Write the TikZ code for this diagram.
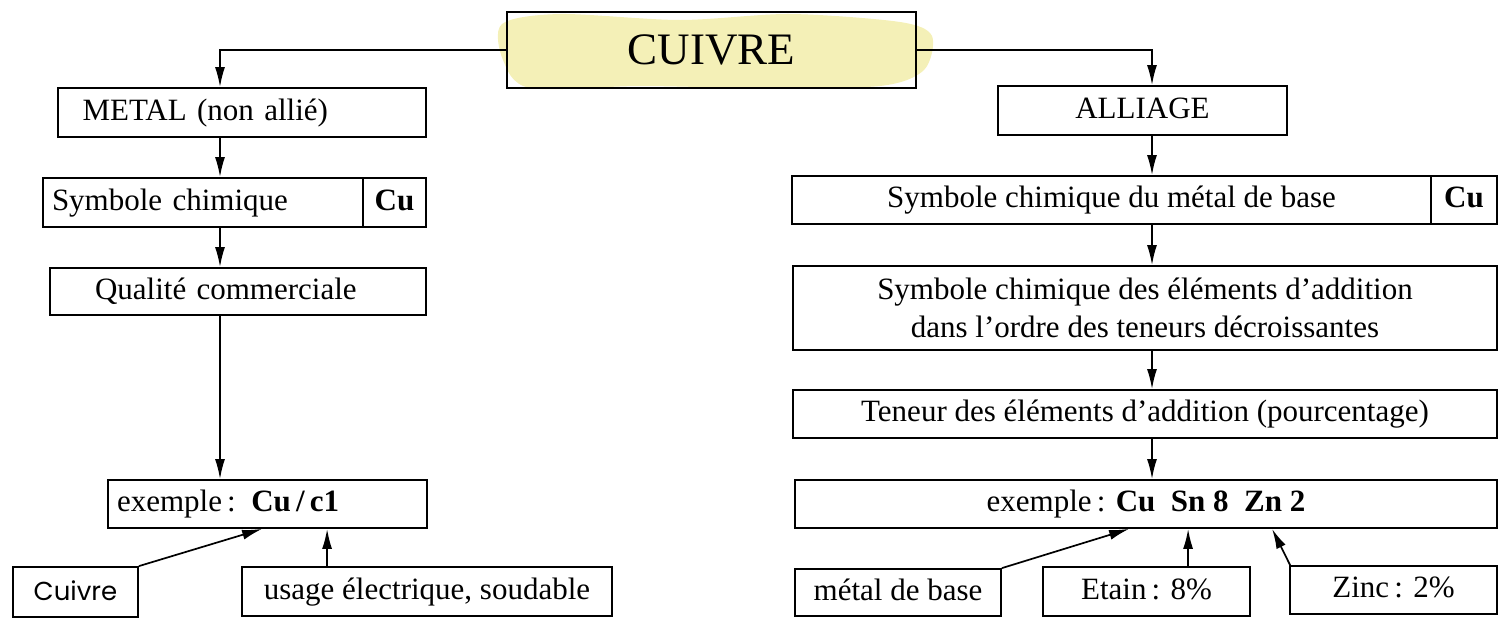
\documentclass[tikz,border=0pt]{standalone}
\usepackage{fontspec}
\setmainfont{Liberation Serif}
\newfontfamily\handfont{Poppins}
\usetikzlibrary{arrows.meta,calc}
\definecolor{hl}{RGB}{242,237,170}
\begin{document}
\begin{tikzpicture}[x=1pt,y=1pt,
  box/.style={draw, line width=1.8pt, inner sep=0pt, text height=21pt, text depth=6pt, font=\fontsize{31}{38}\selectfont},
  lbox/.style={box, align=left},
  arr/.style={line width=1.7pt, -{Latex[length=20pt,width=10pt]}}]
\useasboundingbox (0,0) rectangle (1499,-627);
% highlight behind the title
\fill[hl, opacity=0.85] plot[smooth cycle] coordinates {(502,-24) (560,-14) (680,-20) (790,-14) (900,-22) (932,-36) (924,-70) (880,-86) (760,-88) (640,-86) (530,-88) (503,-60)};
% title
\node[box, minimum width=409pt, minimum height=76pt, text height=31pt, text depth=2pt, font=\fontsize{45}{50}\selectfont] (cuivre) at (711.5,-50) {CUIVRE};
% left column
\node[lbox, text width=319pt, inner xsep=24.5pt, minimum height=49pt] (metal) at (242,-112.5) {METAL (non allié)};
\node[lbox, text width=302pt, inner xsep=9pt, minimum height=49pt] (symL) at (203,-202.5) {Symbole chimique};
\node[box, minimum width=63pt, minimum height=49pt] (symR) at (394.5,-202.5) {\bfseries Cu};
\node[lbox, text width=286pt, inner xsep=45pt, minimum height=47pt] (qual) at (238,-291.5) {Qualité commerciale};
\node[lbox, text width=301pt, inner xsep=9pt, minimum height=48pt] (exl) at (267.5,-504) {exemple\,: \textbf{Cu\,/\,c1}};
\node[box, minimum width=125pt, minimum height=50pt, text height=19pt, text depth=3pt, font=\handfont\fontsize{26}{30}\selectfont] (cuivreH) at (75.5,-592) {Cuivre};
\node[box, minimum width=370pt, minimum height=49pt] (usage) at (427,-591.5) {usage électrique, soudable};
% right column
\node[box, minimum width=289pt, minimum height=49pt] (alliage) at (1142.5,-110.5) {ALLIAGE};
\node[box, minimum width=639pt, minimum height=48pt] (symrL) at (1111.5,-200) {Symbole chimique du métal de base};
\node[box, minimum width=66pt, minimum height=48pt] (symrR) at (1464,-200) {\bfseries Cu};
\node[box, minimum width=704pt, minimum height=84pt, align=center, text height=, text depth=] (addn) at (1145,-308) {Symbole chimique des éléments d’addition\\dans l’ordre des teneurs décroissantes};
\node[box, minimum width=704pt, minimum height=48pt] (teneur) at (1145,-414) {Teneur des éléments d’addition (pourcentage)};
\node[box, minimum width=702pt, minimum height=48pt] (exr) at (1146,-504) {exemple\,: \textbf{Cu\enspace Sn 8\enspace Zn 2}};
\node[box, minimum width=206pt, minimum height=47pt] (mdb) at (898,-592.5) {métal de base};
\node[box, minimum width=207pt, minimum height=49pt] (etain) at (1146.5,-591.5) {Etain\,: 8\%};
\node[box, minimum width=207pt, minimum height=48pt] (zinc) at (1393.5,-590) {Zinc\,: 2\%};
% connectors
\coordinate (lx) at (220,0);
\coordinate (rx) at (1152,0);
\draw[arr] (cuivre.west) -| (lx |- metal.north);
\draw[arr] (cuivre.east) -| (rx |- alliage.north);
\draw[arr] (lx |- metal.south) -- (lx |- symL.north);
\draw[arr] (lx |- symL.south) -- (lx |- qual.north);
\draw[arr] (lx |- qual.south) -- (lx |- exl.north);
\draw[arr] (rx |- alliage.south) -- (rx |- symrL.north);
\draw[arr] (rx |- symrL.south) -- (rx |- addn.north);
\draw[arr] (rx |- addn.south) -- (rx |- teneur.north);
\draw[arr] (rx |- teneur.south) -- (rx |- exr.north);
% bottom left
\draw[arr] (cuivreH.north east) -- ([xshift=155pt]exl.south west);
\coordinate (u1) at ([xshift=86pt]usage.north west);
\draw[arr] (u1) -- (u1 |- exl.south);
% bottom right
\draw[arr] (mdb.north east) -- ([xshift=335pt]exr.south west);
\coordinate (e1) at ([xshift=146pt]etain.north west);
\draw[arr] (e1) -- (e1 |- exr.south);
\draw[arr] ([xshift=1pt]zinc.north west) -- ([xshift=478pt]exr.south west);
\end{tikzpicture}
\end{document}
